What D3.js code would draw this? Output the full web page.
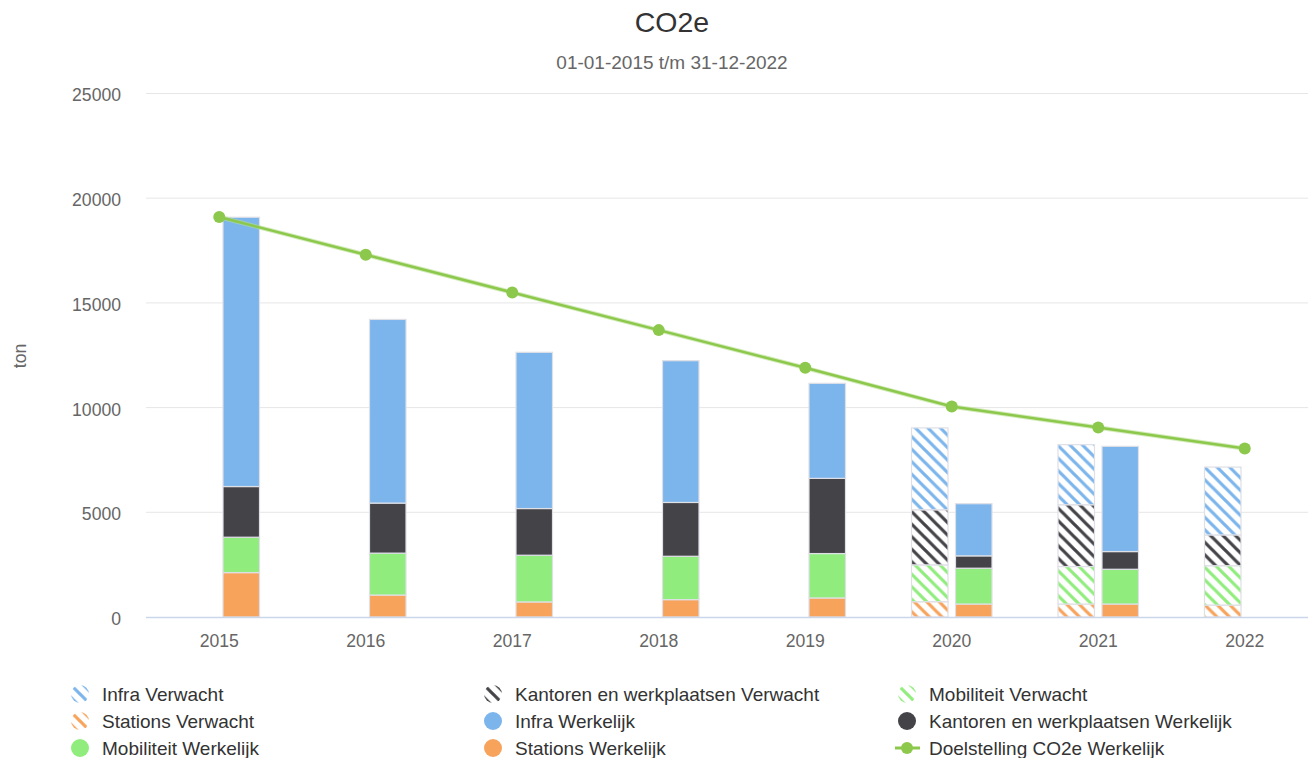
<!DOCTYPE html>
<html>
<head>
<meta charset="utf-8">
<script src="https://cdn.jsdelivr.net/npm/d3@7"></script>
<style>
  html, body { margin: 0; padding: 0; background: #fff; }
  svg { display: block; font-family: "Liberation Sans", Arial, sans-serif; }
</style>
</head>
<body>
<svg id="chart" width="1308" height="758"></svg>
<script>
// ---------- DATA ----------
const years = ["2015", "2016", "2017", "2018", "2019", "2020", "2021", "2022"];
const yTicks = [0, 5000, 10000, 15000, 20000, 25000];

// Werkelijk (actual) stack
const stationsWerkelijk   = [2120, 1050, 720, 830, 910, 620, 620, null];
const mobiliteitWerkelijk = [1690, 2000, 2230, 2070, 2120, 1710, 1660, null];
const kantorenWerkelijk   = [2420, 2390, 2230, 2570, 3590, 590, 845, null];
const infraWerkelijk      = [12860, 8770, 7460, 6770, 4540, 2490, 5025, null];

// Verwacht (expected) stack
const stationsVerwacht   = [null, null, null, null, null, 730, 620, 570];
const mobiliteitVerwacht = [null, null, null, null, null, 1760, 1790, 1880];
const kantorenVerwacht   = [null, null, null, null, null, 2630, 2950, 1470];
const infraVerwacht      = [null, null, null, null, null, 3910, 2870, 3240];

// Target line
const doelstelling = [19100, 17300, 15500, 13700, 11900, 10050, 9050, 8050];

// ---------- STYLE ----------
const colors = {
  infra: "#7cb5ec",
  kantoren: "#434348",
  mobiliteit: "#90ed7d",
  stations: "#f7a35c",
  target: "#8cc84b"
};

const svg = d3.select("#chart");
const W = 1308, H = 758;

const x = d3.scaleBand().domain(years).range([146, 1318]).padding(0);
const y = d3.scaleLinear().domain([0, 25000]).range([617, 93.5]);
const bw = x.bandwidth();
const barW = 36.5;
const off = 22;

// ---------- PATTERNS ----------
const defs = svg.append("defs");
const P = 12.5;
function makePattern(id, color) {
  const p = defs.append("pattern")
    .attr("id", id)
    .attr("patternUnits", "userSpaceOnUse")
    .attr("width", P).attr("height", P);
  p.append("rect").attr("width", P).attr("height", P).attr("fill", "#fff");
  p.append("path")
    .attr("d", `M0,0 L${P},${P} M${P - 1.5},-1.5 L${P + 1.5},1.5 M-1.5,${P - 1.5} L1.5,${P + 1.5}`)
    .attr("stroke", color).attr("stroke-width", 3.2)
    .attr("stroke-linecap", "square").attr("fill", "none");
}
makePattern("hatch-infra", colors.infra);
makePattern("hatch-kantoren", colors.kantoren);
makePattern("hatch-mobiliteit", colors.mobiliteit);
makePattern("hatch-stations", colors.stations);

// ---------- GRID ----------
svg.append("g").selectAll("line").data(yTicks.filter(d => d > 0)).join("line")
  .attr("x1", 146).attr("x2", W)
  .attr("y1", d => y(d)).attr("y2", d => y(d))
  .attr("stroke", "#e6e6e6").attr("stroke-width", 1);

// Y axis labels
const yAxis = d3.axisLeft(y).tickValues(yTicks).tickSize(0).tickPadding(0).tickFormat(d3.format("d"));
const yg = svg.append("g").attr("transform", "translate(121,0)").call(yAxis);
yg.select(".domain").remove();
yg.selectAll("text")
  .attr("fill", "#666").attr("font-size", "17.6px")
  .attr("font-family", "Liberation Sans, Arial, sans-serif")
  .attr("dy", "0.42em");

// X axis
const xAxis = d3.axisBottom(x).tickSize(0).tickPadding(0);
const xg = svg.append("g").attr("transform", "translate(0,617)").call(xAxis);
xg.select(".domain").remove();
xg.selectAll("text")
  .attr("fill", "#666").attr("font-size", "17.6px")
  .attr("font-family", "Liberation Sans, Arial, sans-serif")
  .attr("dy", null).attr("y", 30);

// ---------- BARS ----------
function drawStack(series, offset) {
  const g = svg.append("g");
  years.forEach((yr, i) => {
    let base = 0;
    series.forEach(s => {
      const v = s.values[i];
      if (v == null) return;
      const x0 = x(yr) + bw / 2 + offset - barW / 2;
      g.append("rect")
        .attr("x", x0)
        .attr("y", y(base + v))
        .attr("width", barW)
        .attr("height", y(base) - y(base + v))
        .attr("fill", s.fill)
        .attr("stroke", "#dfe0e6")
        .attr("stroke-width", 1.2);
      base += v;
    });
  });
}

drawStack([
  { values: stationsVerwacht, fill: "url(#hatch-stations)" },
  { values: mobiliteitVerwacht, fill: "url(#hatch-mobiliteit)" },
  { values: kantorenVerwacht, fill: "url(#hatch-kantoren)" },
  { values: infraVerwacht, fill: "url(#hatch-infra)" }
], -off);

drawStack([
  { values: stationsWerkelijk, fill: colors.stations },
  { values: mobiliteitWerkelijk, fill: colors.mobiliteit },
  { values: kantorenWerkelijk, fill: colors.kantoren },
  { values: infraWerkelijk, fill: colors.infra }
], off);

// X axis line
svg.append("line")
  .attr("x1", 146).attr("x2", W).attr("y1", 617.5).attr("y2", 617.5)
  .attr("stroke", "#ccd6eb").attr("stroke-width", 1.5);

// ---------- TARGET LINE ----------
const cx = d => x(d) + bw / 2;
const line = d3.line().x((d, i) => cx(years[i])).y(d => y(d));
svg.append("path")
  .datum(doelstelling)
  .attr("d", line)
  .attr("fill", "none")
  .attr("stroke", "#b5dd8c")
  .attr("stroke-width", 4.5)
  .attr("stroke-opacity", 0.6);
svg.append("path")
  .datum(doelstelling)
  .attr("d", line)
  .attr("fill", "none")
  .attr("stroke", colors.target)
  .attr("stroke-width", 2.5);
svg.append("g").selectAll("circle").data(doelstelling).join("circle")
  .attr("cx", (d, i) => cx(years[i]))
  .attr("cy", d => y(d))
  .attr("r", 6)
  .attr("fill", colors.target);

// ---------- TITLES ----------
svg.append("text")
  .attr("x", 672).attr("y", 32)
  .attr("text-anchor", "middle")
  .attr("font-size", "28.5px").attr("fill", "#333")
  .text("CO2e");
svg.append("text")
  .attr("x", 672).attr("y", 69)
  .attr("text-anchor", "middle")
  .attr("font-size", "19px").attr("fill", "#666")
  .text("01-01-2015 t/m 31-12-2022");
svg.append("text")
  .attr("transform", "translate(26,356) rotate(-90)")
  .attr("text-anchor", "middle")
  .attr("font-size", "17.6px").attr("fill", "#666")
  .text("ton");

// ---------- LEGEND ----------
const legendItems = [
  { name: "Infra Verwacht", fill: "url(#hatch-infra)", type: "circle" },
  { name: "Kantoren en werkplaatsen Verwacht", fill: "url(#hatch-kantoren)", type: "circle" },
  { name: "Mobiliteit Verwacht", fill: "url(#hatch-mobiliteit)", type: "circle" },
  { name: "Stations Verwacht", fill: "url(#hatch-stations)", type: "circle" },
  { name: "Infra Werkelijk", fill: colors.infra, type: "circle" },
  { name: "Kantoren en werkplaatsen Werkelijk", fill: colors.kantoren, type: "circle" },
  { name: "Mobiliteit Werkelijk", fill: colors.mobiliteit, type: "circle" },
  { name: "Stations Werkelijk", fill: colors.stations, type: "circle" },
  { name: "Doelstelling CO2e Werkelijk", fill: colors.target, type: "line" }
];
const colX = [80, 493, 907];
const rowY = [694, 721, 748];
const lg = svg.append("g");
legendItems.forEach((it, i) => {
  const c = i % 3, r = Math.floor(i / 3);
  const gx = colX[c], gy = rowY[r];
  const g = lg.append("g").attr("transform", `translate(${gx},${gy})`);
  if (it.type === "circle") {
    g.append("circle").attr("r", 9).attr("fill", it.fill);
  } else {
    g.append("line").attr("x1", -12).attr("x2", 13).attr("y1", 0).attr("y2", 0)
      .attr("stroke", it.fill).attr("stroke-width", 3);
    g.append("circle").attr("r", 6).attr("fill", it.fill);
  }
  g.append("text")
    .attr("x", 22).attr("y", 7)
    .attr("font-size", "19px").attr("fill", "#333")
    .text(it.name);
});
</script>
</body>
</html>
